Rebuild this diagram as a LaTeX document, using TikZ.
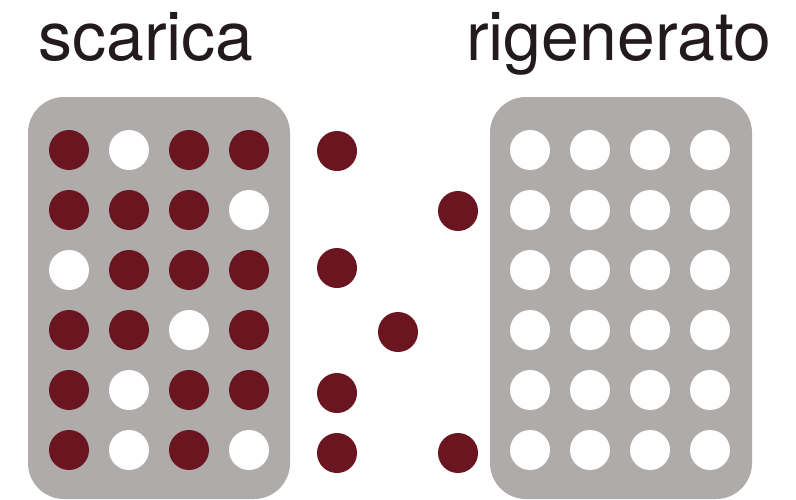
\documentclass[tikz,border=0pt]{standalone}
\usepackage{fontspec}
\setmainfont{TeX Gyre Heros}
\definecolor{ion}{HTML}{6A1520}
\definecolor{panel}{HTML}{AEABAA}
\definecolor{txt}{HTML}{231A1E}
\begin{document}
\begin{tikzpicture}[x=1pt,y=-1pt,
  panelbox/.style={fill=panel,draw=none,rounded corners=36pt},
  dot/.style={circle,draw=none,minimum size=40pt,inner sep=0pt},
  full/.style={dot,fill=ion},
  empty/.style={dot,fill=white},
  title/.style={anchor=base west,inner sep=0pt,text=txt,font=\fontsize{68}{80}\selectfont}]
\useasboundingbox (0,0) rectangle (796,499);
\fill[white] (0,0) rectangle (796,499);
\node[title] (tl) at (38,60) {scarica};
\node[title] (tr) at (466,60) {rigenerato};
\fill[panelbox] (28,97) rectangle (290,499);
\fill[panelbox] (490,97) rectangle (752,499);
% left panel pattern: 1 = ion, 0 = empty
\foreach \row [count=\r] in {{1,0,1,1},{1,1,1,0},{0,1,1,1},{1,1,0,1},{1,0,1,1},{1,0,1,0}}{
  \foreach \v [count=\c] in \row {
    \ifnum\v=1
      \node[full] (L-\r-\c) at ({9+60*\c},{90+60*\r}) {};
    \else
      \node[empty] (L-\r-\c) at ({9+60*\c},{90+60*\r}) {};
    \fi
  }
}
\foreach \r in {1,...,6}{
  \foreach \c in {1,...,4}{
    \node[empty] (R-\r-\c) at ({470+60*\c},{90+60*\r}) {};
  }
}
\node[full] (f1) at (337,151) {};
\node[full] (f2) at (458,211) {};
\node[full] (f3) at (337,268) {};
\node[full] (f4) at (398,332) {};
\node[full] (f5) at (337,393) {};
\node[full] (f6) at (337,453) {};
\node[full] (f7) at (458,453) {};
\end{tikzpicture}
\end{document}
